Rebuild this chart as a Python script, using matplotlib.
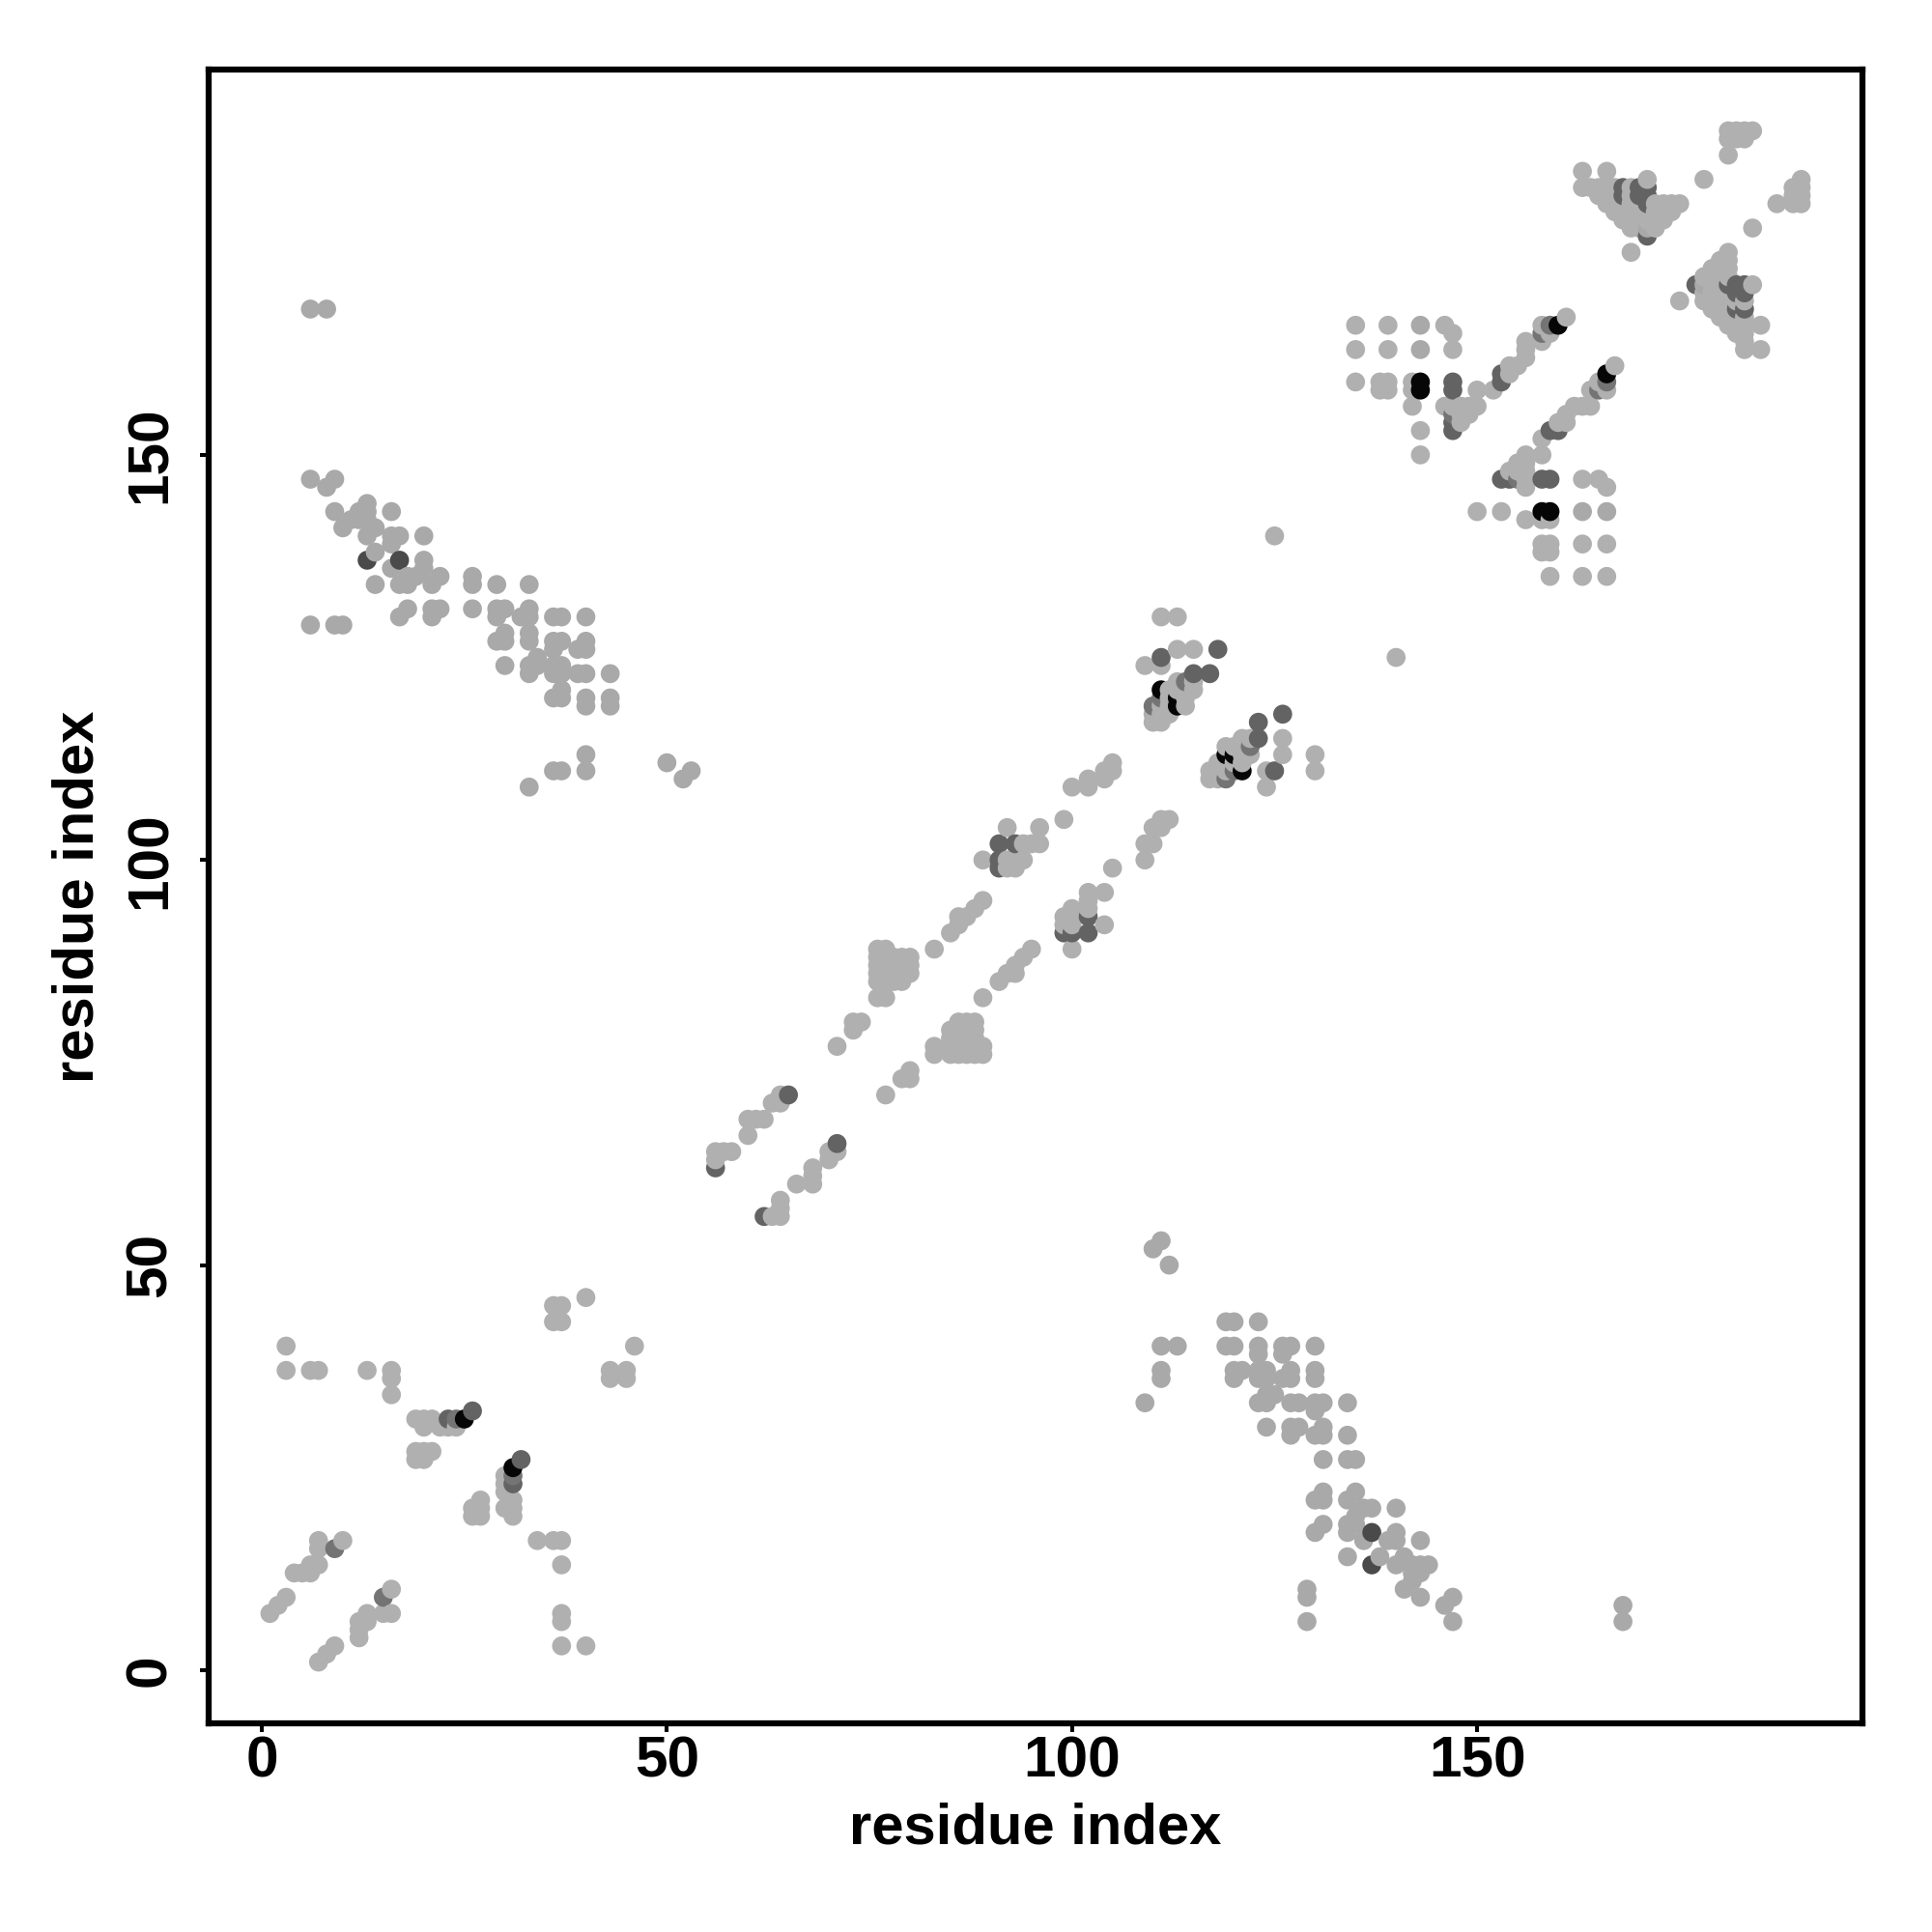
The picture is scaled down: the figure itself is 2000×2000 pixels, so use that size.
import matplotlib
matplotlib.use("Agg")
import matplotlib.pyplot as plt

plt.rcParams['font.family'] = ['Liberation Sans', 'DejaVu Sans']

AXIS_LABEL = "residue index"
TICKS = [0, 50, 100, 150]

# residue contacts (i < j); the map is symmetric
light_contacts = [
    (1,7),(2,8),(3,9),(4,12),(5,12),(6,12),(6,13),(7,13),(7,15),(7,16),(10,16),
    (3,37),(3,40),(6,37),(7,37),(13,37),(16,34),(16,36),(16,37),
    (19,26),(19,27),(20,26),(20,27),(21,27),(19,31),(20,30),(20,31),(21,31),
    (22,30),(23,30),(24,30),(36,43),(37,43),(36,45),(37,45),(40,46),
    (56,63),(56,64),(57,64),(58,64),(60,66),(60,68),(61,68),(62,68),(63,70),(64,70),(64,71),
    (71,77),(73,79),(73,80),(74,80),
    (76,83),(76,85),(76,86),(76,87),(76,88),(76,89),
    (77,83),(77,85),(77,86),(77,87),(77,88),(77,89),
    (78,85),(78,86),(78,87),(78,88),(79,85),(79,86),(79,87),(79,88),(80,86),(80,87),(80,88),
    (83,89),(85,91),(86,92),(86,93),(87,93),(88,94),(89,95),
    (89,100),(92,99),(92,100),(93,99),(93,100),(94,100),(94,102),(95,102),(96,102),
    (92,104),(96,104),(99,105),
    (100,109),(102,109),(102,110),(104,110),(104,111),(105,111),(105,112),
    (109,124),(111,124),(111,130),(113,130),(113,126),(115,126),
    (110,117),(111,117),(110,118),(111,118),(112,118),(111,119),(112,119),(114,119),(112,120),(114,120),
    (112,121),(113,121),(114,121),(115,121),(113,122),(115,122),
    (125,140),
    (135,159),(135,163),(135,166),(138,158),(138,159),(139,158),(139,159),(139,163),(139,166),
    (142,156),(142,158),(142,159),(143,150),(143,153),(143,163),(143,166),(146,156),(146,166),
    (147,156),(147,163),(147,165),(148,154),(148,155),(148,156),(149,155),(149,156),(150,156),
    (150,158),(152,158),(154,160),(154,161),(155,161),(156,162),(156,163),(156,164),
    (158,164),(158,166),(159,165),(161,167),
    (163,185),(166,185),(163,183),(164,183),(165,183),(166,183),(167,183),(169,183),
    (165,182),(166,182),(167,182),(169,182),(166,181),(167,181),(168,181),(169,181),(170,181),
    (172,181),(173,181),(174,181),(175,181),(167,180),(168,180),(169,180),(170,180),(171,180),
    (172,180),(173,180),(174,180),(168,179),(169,179),(170,179),(171,179),(172,179),(173,179),
    (169,178),(170,178),(172,178),(169,175),(171,184),(178,184),(181,187),
    (181,189),(181,190),(182,189),(182,190),(183,189),(183,190),(184,190),
]
far_contacts = [
    (52,110),(53,111),(50,112),(43,119),(43,120),(43,123),(40,111),(40,113),(40,119),(40,120),
    (40,123),(40,126),(40,127),(40,130),(39,123),(39,126),(37,111),(37,120),(37,121),(37,123),
    (37,124),(37,127),(37,130),(36,111),(36,120),(36,123),(36,124),(36,126),(36,127),(36,130),
    (34,124),(34,125),(33,109),(33,123),(33,124),(33,127),(33,128),(33,130),(33,131),(33,134),
    (32,130),(30,124),(30,127),(30,128),(30,131),(29,127),(29,130),(29,131),(29,134),
    (26,131),(26,134),(26,135),(22,131),(21,130),(21,131),(21,134),(22,135),(20,136),(20,137),
    (20,140),(19,135),(18,131),(17,130),(18,134),(17,134),(18,135),(16,136),(16,139),(16,140),
    (17,140),(16,143),(14,134),(14,138),(14,141),(13,140),(13,142),(13,143),(13,144),
    (12,142),(12,143),(11,142),(10,141),(9,143),(8,146),(9,147),(6,147),(8,168),(6,168),
    (10,129),(9,129),(6,129),(143,163),(143,166),(171,178),
]
mid_contacts = [(9,15),(24,31),(110,119),(111,120),(114,122),(147,155),(158,165),(159,166)]
dark_contacts = [
    (23,31),(26,32),(56,62),(65,71),(91,99),(91,100),(91,102),(93,102),
    (111,125),(118,126),(115,123),(117,123),(147,153),(147,154),(147,158),(147,159),
    (153,159),(153,160),(168,182),(168,183),(170,182),(170,183),(171,177),
    (171,181),(171,182),(171,183),
]
deep_contacts = [(13,137),(17,137)]
black_contacts = [(25,31),(111,121),(113,119),(113,120),(143,158),(143,159),(160,166)]

# grey levels, light to black
GREYS = {"far": "#a9a9a9", "light": "#b0b0b0", "mid": "#747474",
         "dark": "#636363", "deep": "#4a4a4a", "black": "#060606"}

level_of = {}
for name, pairs in [("light", light_contacts), ("far", far_contacts), ("mid", mid_contacts),
                    ("dark", dark_contacts), ("deep", deep_contacts), ("black", black_contacts)]:
    for a, b in pairs:
        key = (min(a, b), max(a, b))
        level_of[key] = name

points = []
for (a, b), name in level_of.items():
    points.append((a, b, GREYS[name]))
    points.append((b, a, GREYS[name]))
points.sort(key=lambda p: (p[0], p[1]))
xs = [p[0] for p in points]
ys = [p[1] for p in points]
cs = [p[2] for p in points]

W = 2000
fig = plt.figure(figsize=(20, 20), dpi=100, facecolor="white")
left, right, top, bottom = 216, 1928, 72, 1784
ax = fig.add_axes([left / W, 1 - bottom / W, (right - left) / W, (bottom - top) / W])
ax.scatter(xs, ys, c=cs, s=200, linewidths=0, zorder=3)
ax.set_xlim(-6.56, 197.56)
ax.set_ylim(-6.56, 197.56)

for s in ax.spines.values():
    s.set_linewidth(4.5)
ax.set_xticks(TICKS)
ax.set_yticks(TICKS)
ax.set_xticklabels([str(t) for t in TICKS], fontsize=43.5, fontweight="bold")
ax.set_yticklabels([str(t) for t in TICKS], fontsize=43.5, fontweight="bold", rotation=90, va="center")
ax.tick_params(axis="both", length=6.5, width=2.9, direction="out", color="black")
ax.tick_params(axis="x", pad=2.5)
ax.tick_params(axis="y", pad=17)

ax.set_xlabel(AXIS_LABEL, fontsize=43, fontweight="bold")
ax.set_ylabel(AXIS_LABEL, fontsize=43, fontweight="bold")
ax.xaxis.set_label_coords(0.5, -0.0475)
ax.yaxis.set_label_coords(-0.0625, 0.5)

fig.savefig("out.png", dpi=100, facecolor="white")
